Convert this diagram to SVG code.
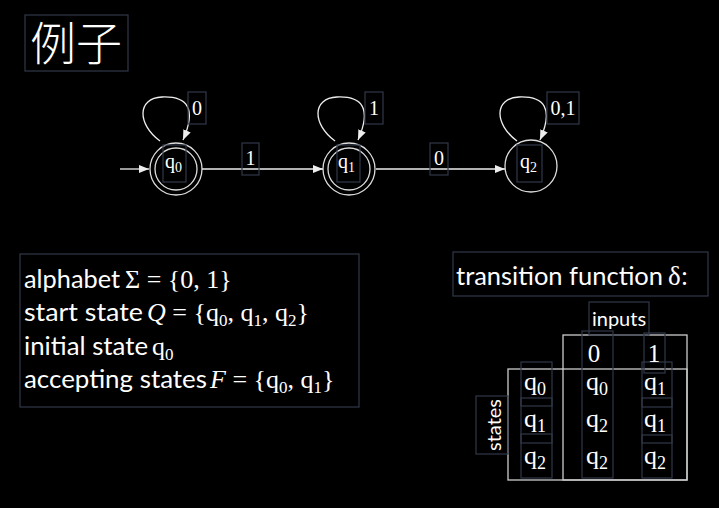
<svg xmlns="http://www.w3.org/2000/svg" width="719" height="508" viewBox="0 0 719 508">
<defs>
<marker id="ah" markerWidth="10" markerHeight="8" refX="10" refY="4" orient="auto" markerUnits="userSpaceOnUse">
<path d="M0,0 L10,4 L0,8 z" fill="#eeeeee"/>
</marker>
<style>
.lb{fill:none;stroke:#303848;stroke-width:1.2}
.st{fill:none;stroke:#dddddd;stroke-width:1.3}
.ed{fill:none;stroke:#eeeeee;stroke-width:1.3;marker-end:url(#ah)}
.tb{fill:none;stroke:#cccccc;stroke-width:1.3}
.sf{font-family:"Liberation Serif","DejaVu Serif",serif;fill:#ffffff}
.ss{font-family:Lato,"Liberation Sans",sans-serif;fill:#ffffff}
.it{font-style:italic}
</style>
</defs>
<rect width="719" height="508" fill="#000000"/>

<g id="title">
<rect class="lb" x="25" y="15" width="103" height="56"/>
<text x="30" y="60" font-size="46" font-family="Noto Sans CJK SC, sans-serif" font-weight="300" fill="#ffffff">例子</text>
</g>

<g id="connectors">
<line class="ed" x1="120" y1="169" x2="149" y2="169"/>
<path class="ed" d="M160,141 C137,124 137,98 162,97 C187,96 197,108 183,140"/>
<line class="ed" x1="202" y1="169" x2="323" y2="169"/>
<path class="ed" d="M335,141 C312,124 312,98 337,97 C362,96 372,108 358,140"/>
<line class="ed" x1="376" y1="169" x2="505" y2="169"/>
<path class="ed" d="M517,141 C494,124 494,98 519,97 C544,96 554,108 540,140"/>
</g>

<g id="edge-labels">
<rect class="lb" x="188" y="92" width="18" height="32"/>
<text class="sf" x="197" y="115" font-size="20" text-anchor="middle">0</text>
<rect class="lb" x="242" y="143" width="17" height="32"/>
<text class="sf" x="250.5" y="165" font-size="20" text-anchor="middle">1</text>
<rect class="lb" x="365" y="92" width="18" height="32"/>
<text class="sf" x="374" y="115" font-size="20" text-anchor="middle">1</text>
<rect class="lb" x="430" y="143" width="18" height="32"/>
<text class="sf" x="439" y="165" font-size="20" text-anchor="middle">0</text>
<rect class="lb" x="547" y="92" width="32" height="32"/>
<text class="sf" x="563" y="115" font-size="20" text-anchor="middle">0,1</text>
</g>

<g id="q0">
<circle class="st" cx="176" cy="169" r="26"/>
<circle class="st" cx="176" cy="169" r="21"/>
<rect class="lb" x="163" y="145" width="23" height="37"/>
<text class="sf" x="165" y="168" font-size="20">q<tspan font-size="14" dy="4">0</tspan></text>
</g>
<g id="q1">
<circle class="st" cx="349" cy="169" r="26"/>
<circle class="st" cx="349" cy="169" r="21"/>
<rect class="lb" x="337" y="145" width="23" height="37"/>
<text class="sf" x="338" y="168" font-size="20">q<tspan font-size="14" dy="4">1</tspan></text>
</g>
<g id="q2">
<circle class="st" cx="531" cy="166" r="26"/>
<rect class="lb" x="517" y="145" width="25" height="37"/>
<text class="sf" x="520" y="168" font-size="20">q<tspan font-size="14" dy="4">2</tspan></text>
</g>

<g id="definition">
<rect class="lb" x="20" y="254" width="339" height="153"/>
<text class="ss" x="24" y="288" font-size="25" textLength="96" lengthAdjust="spacingAndGlyphs">alphabet</text>
<text class="sf" x="125" y="288" font-size="26">Σ = {0, 1}</text>
<text class="ss" x="24" y="321" font-size="25" textLength="119" lengthAdjust="spacingAndGlyphs">start state</text>
<text class="sf" x="147" y="321" font-size="26"><tspan class="it">Q</tspan> = {q<tspan font-size="17" dy="5">0</tspan><tspan dy="-5">, q</tspan><tspan font-size="17" dy="5">1</tspan><tspan dy="-5">, q</tspan><tspan font-size="17" dy="5">2</tspan><tspan dy="-5">}</tspan></text>
<text class="ss" x="24" y="355" font-size="25" textLength="124" lengthAdjust="spacingAndGlyphs">initial state</text>
<text class="sf" x="152" y="355" font-size="26">q<tspan font-size="17" dy="5">0</tspan></text>
<text class="ss" x="24" y="388" font-size="25" textLength="183" lengthAdjust="spacingAndGlyphs">accepting states</text>
<text class="sf" x="210" y="388" font-size="26"><tspan class="it">F</tspan> = {q<tspan font-size="17" dy="5">0</tspan><tspan dy="-5">, q</tspan><tspan font-size="17" dy="5">1</tspan><tspan dy="-5">}</tspan></text>
</g>

<g id="transition-title">
<rect class="lb" x="453" y="252" width="255" height="44"/>
<text class="ss" x="456" y="285" font-size="25" textLength="207" lengthAdjust="spacingAndGlyphs">transition function</text>
<text class="sf" x="668" y="285" font-size="27">δ:</text>
</g>

<g id="table">
<rect class="tb" x="563" y="335" width="124" height="145"/>
<rect class="tb" x="508" y="369" width="179" height="111"/>
<rect class="lb" x="589" y="302" width="60" height="33"/>
<text class="ss" x="619" y="326" font-size="20" text-anchor="middle">inputs</text>
<rect class="lb" x="476" y="396" width="32" height="58"/>
<text class="ss" font-size="20" text-anchor="middle" transform="translate(501,425) rotate(-90)">states</text>
<rect class="lb" x="582" y="331" width="31" height="147"/>
<rect class="lb" x="644" y="333" width="21" height="40"/>
<rect class="lb" x="521" y="362" width="31" height="44"/>
<rect class="lb" x="521" y="398" width="31" height="45"/>
<rect class="lb" x="521" y="434" width="31" height="44"/>
<rect class="lb" x="642" y="362" width="30" height="45"/>
<rect class="lb" x="642" y="398" width="30" height="45"/>
<rect class="lb" x="642" y="435" width="30" height="43"/>
<text class="sf" x="594" y="362" font-size="25" text-anchor="middle">0</text>
<text class="sf" x="654" y="362" font-size="25" text-anchor="middle">1</text>
<text class="sf" x="524" y="390" font-size="26">q<tspan font-size="18" dy="5">0</tspan></text>
<text class="sf" x="524" y="427" font-size="26">q<tspan font-size="18" dy="5">1</tspan></text>
<text class="sf" x="524" y="464" font-size="26">q<tspan font-size="18" dy="5">2</tspan></text>
<text class="sf" x="586" y="390" font-size="26">q<tspan font-size="18" dy="5">0</tspan></text>
<text class="sf" x="586" y="427" font-size="26">q<tspan font-size="18" dy="5">2</tspan></text>
<text class="sf" x="586" y="464" font-size="26">q<tspan font-size="18" dy="5">2</tspan></text>
<text class="sf" x="644" y="390" font-size="26">q<tspan font-size="18" dy="5">1</tspan></text>
<text class="sf" x="644" y="427" font-size="26">q<tspan font-size="18" dy="5">1</tspan></text>
<text class="sf" x="644" y="464" font-size="26">q<tspan font-size="18" dy="5">2</tspan></text>
</g>
</svg>
